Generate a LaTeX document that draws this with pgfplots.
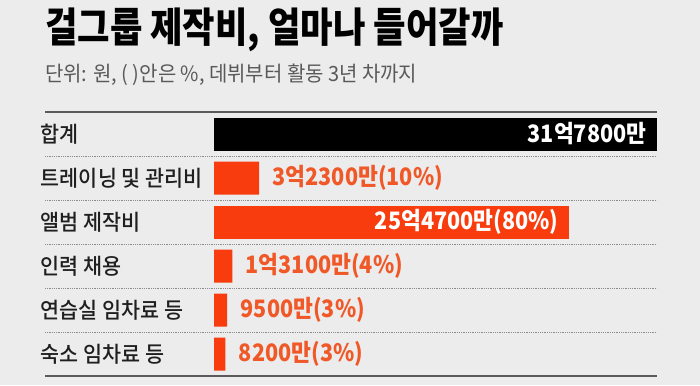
\documentclass[border=0pt]{standalone}
\usepackage{pgfplots}
\pgfplotsset{compat=1.18}
\usepackage{fontspec}
\setmainfont{Noto Sans CJK KR}[FakeStretch=0.85]
\newfontfamily\titlef{Noto Sans CJK KR Black}[FakeStretch=0.86]
\newfontfamily\subf{Noto Sans CJK KR}[FakeStretch=0.95]
\newfontfamily\labf{Noto Sans CJK KR Medium}[FakeStretch=0.94]
\newfontfamily\valf{Noto Sans CJK KR}[FakeStretch=0.9]
\definecolor{bg}{RGB}{236,236,236}
\definecolor{barorange}{RGB}{248,60,14}
\definecolor{txtorange}{RGB}{240,88,40}
\definecolor{rule}{RGB}{90,90,90}
\definecolor{dotrule}{RGB}{140,140,140}
\begin{document}
\begin{tikzpicture}[x=1pt,y=1pt]
\useasboundingbox (0,0) rectangle (700,385);
\fill[bg] (0,0) rectangle (700,385);
\node[anchor=west,inner sep=0pt] at (45,355) {\titlef\fontsize{41}{46}\selectfont 걸그룹 제작비, 얼마나 들어갈까};
\node[anchor=west,inner sep=0pt,text=black!65] at (45,310) {\subf\fontsize{21}{24}\selectfont 단위: 원, ( )안은 \%, 데뷔부터 활동 3년 차까지};
\begin{axis}[
  at={(214pt,9pt)}, anchor=south west,
  scale only axis, width=443pt, height=264pt,
  xmin=0, xmax=31.78, ymin=-0.5, ymax=5.5, y dir=reverse,
  xbar, bar width=33pt, clip=false,
  axis line style={draw=none}, tick style={draw=none},
  xtick=\empty, ytick={0,1,2,3,4,5},
  yticklabels={합계, 트레이닝 및 관리비, 앨범 제작비, 인력 채용, 연습실 임차료 등, 숙소 임차료 등},
  yticklabel style={anchor=west, xshift=-169pt, inner sep=0pt, font=\labf\fontsize{22}{25}\selectfont, text=black!88},
  point meta=explicit symbolic,
  nodes near coords,
]
\addplot[draw=none, fill=black, bar shift=0pt,
  nodes near coords style={anchor=east, xshift=-7pt, text=white, font=\valf\fontsize{24}{27}\selectfont\bfseries}]
  coordinates {(31.78,0) [31억7800만]};
\addplot[draw=none, fill=barorange, bar shift=0pt,
  nodes near coords style={anchor=east, xshift=-7pt, text=white, font=\valf\fontsize{24}{27}\selectfont\bfseries}]
  coordinates {(25.47,2) [25억4700만(80\%)]};
\addplot[draw=none, fill=barorange, bar shift=0pt,
  nodes near coords style={anchor=west, xshift=10pt, text=txtorange, font=\valf\fontsize{24}{27}\selectfont\bfseries}]
  coordinates {(3.23,1) [3억2300만(10\%)] (1.31,3) [1억3100만(4\%)] (0.95,4) [9500만(3\%)] (0.82,5) [8200만(3\%)]};
\end{axis}
\draw[rule, line width=2.5pt] (45,273) -- (657,273);
\draw[rule, line width=2.5pt] (45,9) -- (657,9);
\foreach \yy in {229,185,141,97,53} {
  \draw[dotrule, line width=0.8pt, dash pattern=on 1pt off 0.8pt] (45,\yy) -- (657,\yy);
}
\end{tikzpicture}
\end{document}
